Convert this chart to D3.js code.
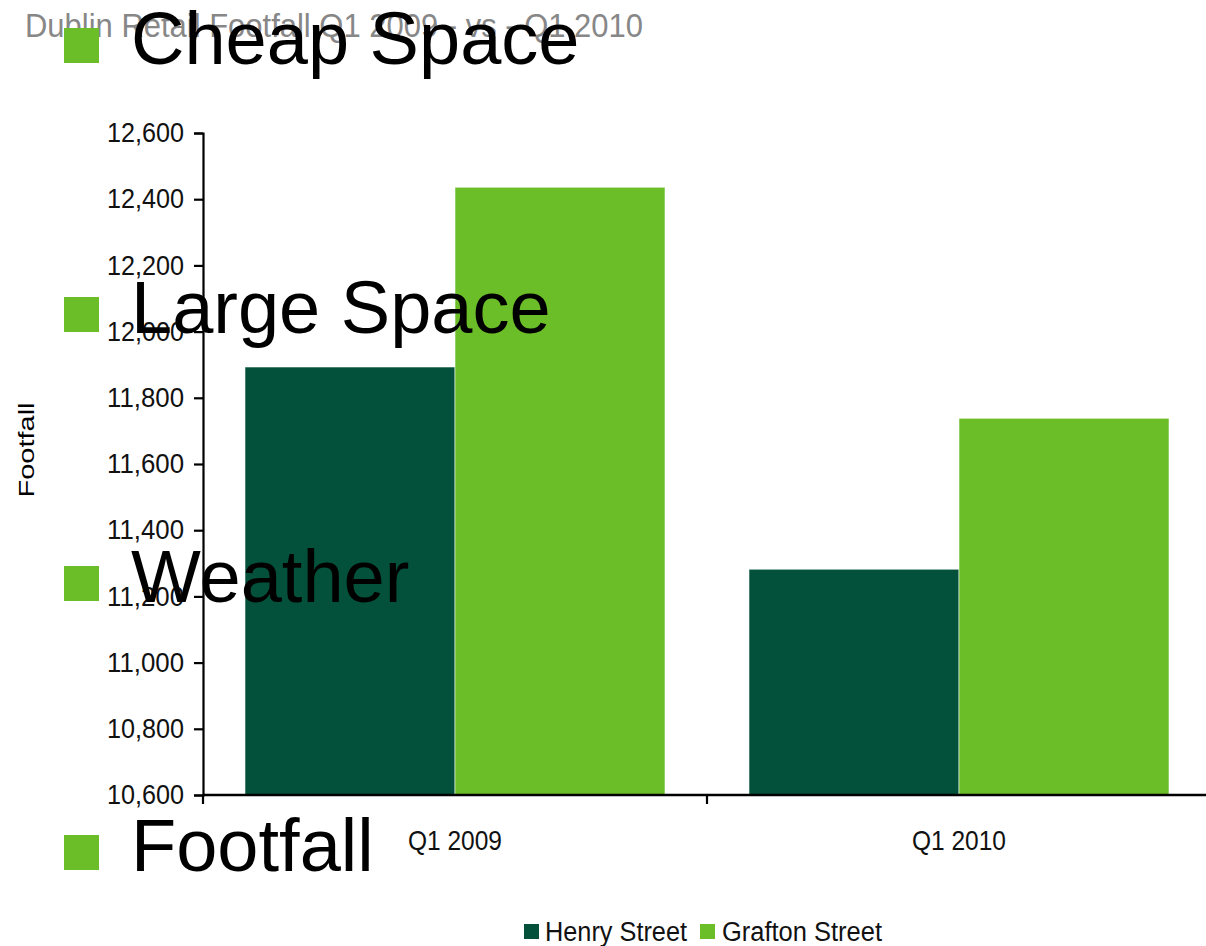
<!DOCTYPE html>
<html>
<head>
<meta charset="utf-8">
<script src="https://cdn.jsdelivr.net/npm/d3@7"></script>
<style>
  html, body { margin: 0; padding: 0; background: #fff; }
  svg { display: block; font-family: "Liberation Sans", Arial, sans-serif; }
</style>
</head>
<body>
<svg id="chart" width="1206" height="946"></svg>
<script>
// ---- data ----
const categories = ["Q1 2009", "Q1 2010"];
const seriesNames = ["Henry Street", "Grafton Street"];
const henryStreet = [11893, 11282];
const graftonStreet = [12436, 11738];
const yTicks = [10600, 10800, 11000, 11200, 11400, 11600, 11800, 12000, 12200, 12400, 12600];
const bulletPoints = ["Cheap Space", "Large Space", "Weather", "Footfall"];
const titleText = "Dublin Retail Footfall Q1 2009 - vs - Q1 2010";
const yTitle = "Footfall";

const colors = { "Henry Street": "#03513a", "Grafton Street": "#6bbe28" };

const svg = d3.select("#chart");
const margin = { left: 203, right: -5, top: 133, bottom: 151 };
const W = 1206, H = 946;
const plotW = W - margin.left - margin.right;
const plotH = H - margin.top - margin.bottom;

const x0 = d3.scaleBand().domain(categories).range([0, plotW])
  .paddingInner(1 / 6).paddingOuter(1 / 12);
const xBoundary = d3.scaleBand().domain(categories).range([0, plotW]).padding(0);
const x1 = d3.scaleBand().domain(seriesNames).range([0, x0.bandwidth()]).padding(0);
const y = d3.scaleLinear().domain([10600, 12600]).range([plotH, 0]);

const values = { "Henry Street": henryStreet, "Grafton Street": graftonStreet };

// title
svg.append("text")
  .attr("x", 25).attr("y", 37)
  .attr("font-size", 34)
  .attr("fill", "#878787")
  .attr("textLength", 618).attr("lengthAdjust", "spacingAndGlyphs")
  .text(titleText);

const g = svg.append("g").attr("transform", `translate(${margin.left},${margin.top})`);

// bars
categories.forEach((c, i) => {
  seriesNames.forEach(s => {
    g.append("rect")
      .attr("x", x0(c) + x1(s))
      .attr("y", y(values[s][i]))
      .attr("width", x1.bandwidth())
      .attr("height", plotH - y(values[s][i]))
      .attr("fill", colors[s])
      .attr("stroke", "rgba(255,255,255,0.55)")
      .attr("stroke-width", 1);
  });
});

// y axis
const yAxis = d3.axisLeft(y).tickValues(yTicks).tickSize(9).tickPadding(10)
  .tickFormat(d3.format(","));
const ya = g.append("g").call(yAxis);
ya.select(".domain").attr("stroke", "#000").attr("stroke-width", 2.2);
ya.selectAll(".tick line").attr("stroke", "#000").attr("stroke-width", 2.2);
ya.selectAll(".tick text").attr("font-size", 27).attr("fill", "#111")
  .attr("font-family", "'Liberation Sans', Arial, sans-serif")
  .attr("textLength", 77).attr("lengthAdjust", "spacingAndGlyphs");

// x axis line + boundary ticks
g.append("line")
  .attr("x1", 0).attr("x2", plotW)
  .attr("y1", plotH).attr("y2", plotH)
  .attr("stroke", "#000").attr("stroke-width", 2.4);
const boundaries = categories.map(c => xBoundary(c)).concat([xBoundary(categories[categories.length - 1]) + xBoundary.bandwidth()]);
g.selectAll(".xtick").data(boundaries).enter().append("line")
  .attr("x1", d => d).attr("x2", d => d)
  .attr("y1", plotH).attr("y2", plotH + 9)
  .attr("stroke", "#000").attr("stroke-width", 2.2);
g.selectAll(".xlabel").data(categories).enter().append("text")
  .attr("x", d => x0(d) + x0.bandwidth() / 2)
  .attr("y", plotH + 55)
  .attr("text-anchor", "middle")
  .attr("font-size", 28)
  .attr("fill", "#111")
  .attr("textLength", 94).attr("lengthAdjust", "spacingAndGlyphs")
  .text(d => d);

// y title
svg.append("text")
  .attr("transform", "translate(34,450) rotate(-90)")
  .attr("text-anchor", "middle")
  .attr("font-size", 22)
  .attr("fill", "#000")
  .attr("textLength", 95).attr("lengthAdjust", "spacingAndGlyphs")
  .text(yTitle);

// legend
const legendItems = [
  { name: seriesNames[0], x: 524, tx: 545, w: 142 },
  { name: seriesNames[1], x: 700, tx: 722, w: 160 }
];
const lg = svg.append("g");
legendItems.forEach(it => {
  lg.append("rect").attr("x", it.x).attr("y", 924).attr("width", 15).attr("height", 15)
    .attr("fill", colors[it.name]);
  lg.append("text").attr("x", it.tx).attr("y", 941)
    .attr("font-size", 27).attr("fill", "#111")
    .attr("textLength", it.w).attr("lengthAdjust", "spacingAndGlyphs")
    .text(it.name);
});

// overlay bullet points
const bulletY = d3.scalePoint().domain(bulletPoints).range([63, 870]);
const bg = svg.append("g");
bulletPoints.forEach(b => {
  const by = bulletY(b);
  bg.append("rect").attr("x", 64).attr("y", by - 35).attr("width", 35).attr("height", 35)
    .attr("fill", "#6bbe28");
  bg.append("text").attr("x", 131).attr("y", by + 1)
    .attr("font-size", 74).attr("fill", "#000")
    .text(b);
});
</script>
</body>
</html>
